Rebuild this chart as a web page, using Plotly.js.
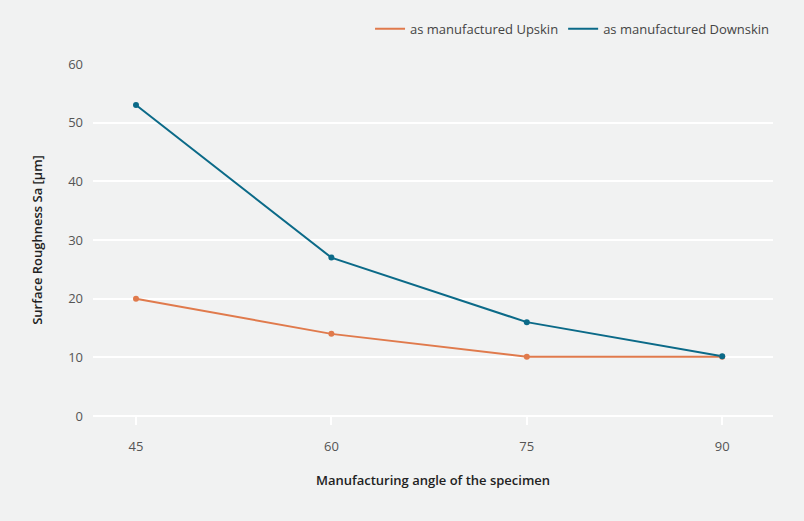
<!DOCTYPE html>
<html>
<head>
<meta charset="utf-8">
<script src="https://cdn.plot.ly/plotly-3.0.1.min.js"></script>
<style>html,body{margin:0;padding:0;background:#f1f2f2;}</style>
</head>
<body>
<div id="chart" style="width:804px;height:521px;"></div>
<script>
var angles = [45, 60, 75, 90];
var upskin = [20, 14, 10.1, 10.1];
var downskin = [53, 27, 16, 10.2];
var seriesNames = ["as manufactured Upskin", "as manufactured Downskin"];
var yTicks = [0, 10, 20, 30, 40, 50, 60];

var orange = "#e07a4c";
var teal = "#0b6a88";

var traces = [
  {x: angles, y: upskin, name: seriesNames[0], mode: "lines", line: {color: orange, width: 2}, legendrank: 1},
  {x: angles, y: downskin, name: seriesNames[1], mode: "lines", line: {color: teal, width: 2}, legendrank: 2},
  {x: angles, y: upskin, mode: "markers", marker: {color: orange, size: 6}, showlegend: false, hoverinfo: "skip"},
  {x: angles, y: downskin, mode: "markers", marker: {color: teal, size: 6}, showlegend: false, hoverinfo: "skip"}
];

var layout = {
  width: 804, height: 521,
  paper_bgcolor: "#f1f2f2", plot_bgcolor: "#f1f2f2",
  font: {family: "Open Sans, sans-serif", color: "#444", size: 13},
  margin: {l: 93, r: 31, t: 64, b: 105},
  showlegend: true,
  legend: {orientation: "h", x: 1.003, xanchor: "right", y: 1.1, yanchor: "middle", font: {size: 13, color: "#444"}, bgcolor: "rgba(0,0,0,0)"},
  xaxis: {
    range: [41.7, 93.9], tickvals: angles, ticktext: angles.map(String),
    showgrid: false, zeroline: false, showline: false,
    ticks: "outside", ticklen: 8, tickwidth: 2, tickcolor: "#ffffff",
    ticklabelstandoff: 10,
    tickfont: {size: 13, color: "#555"},
    title: {text: "Manufacturing angle of the specimen", font: {size: 13, color: "#222", weight: 600}, standoff: 22}
  },
  yaxis: {
    range: [0, 60], tickvals: yTicks, showgrid: true, gridcolor: "#ffffff", gridwidth: 2,
    zeroline: true, zerolinecolor: "#ffffff", zerolinewidth: 2, showline: false,
    ticks: "", ticklabelstandoff: 9,
    tickfont: {size: 13, color: "#555"},
    title: {text: "Surface Roughness Sa [µm]", font: {size: 13, color: "#222", weight: 600}, standoff: 22}
  }
};

Plotly.newPlot("chart", traces, layout, {displayModeBar: false, staticPlot: true});
</script>
</body>
</html>
